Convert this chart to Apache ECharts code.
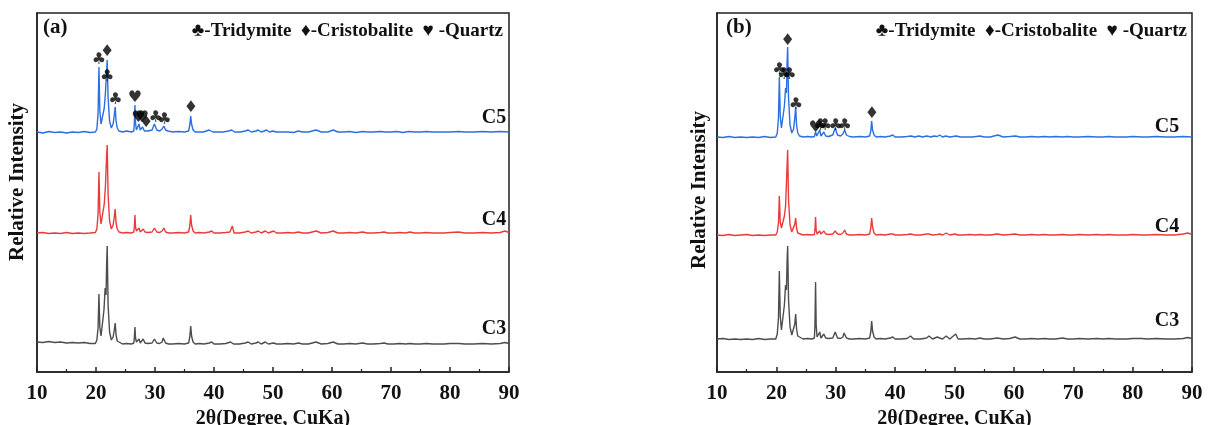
<!DOCTYPE html>
<html>
<head>
<meta charset="utf-8">
<script src="https://cdn.jsdelivr.net/npm/echarts@6/dist/echarts.min.js"></script>
<style>
  html, body { margin: 0; padding: 0; background: #fff; }
  #chart { width: 1217px; height: 425px; }
</style>
</head>
<body>
<div id="chart"></div>
<script>
// XRD patterns, [2θ (deg), intensity (a.u.)], each sample relative to its own baseline
const aC5 = [[10,1],[11,0],[12,1.5],[13,0.5],[14,1],[15,0],[16,1],[17,0.5],[18,1.5],[19,0.5],[19.9,1],[20.15,4],[20.35,20],[20.5,66],[20.65,22],[20.85,9],[21.1,9],[21.4,25],[21.6,40],[21.8,62],[21.9,73],[22.05,35],[22.3,12],[22.6,5],[22.9,9],[23.1,18],[23.25,26],[23.4,12],[23.6,5],[23.9,2],[24.5,1],[25.2,2],[26,1],[26.4,2],[26.5,10],[26.6,28],[26.7,10],[26.85,3],[27.0,3],[27.3,9],[27.5,3],[27.7,4],[27.9,6],[28.2,2],[28.5,4],[28.8,2],[29.5,3],[29.9,9],[30.3,3],[30.8,2],[31.2,4],[31.5,7],[31.8,3],[32.2,2],[33,1],[34,1.5],[35,1],[35.7,2],[35.9,8],[36.05,17],[36.2,9],[36.45,3],[36.8,1],[37.5,1],[38.2,1],[39.2,3],[39.8,1],[40.5,1],[41.5,1],[42.5,2],[43,3],[43.5,1],[44.5,1],[45.3,2],[45.8,3],[46.3,1],[47.1,2],[47.5,3],[48,1],[48.5,2],[48.9,3],[49.4,1],[50,2],[50.5,1],[51.5,1],[52.5,1],[53.5,0.5],[54.3,2],[55,1],[56,1],[57.3,3],[58.2,1],[59.3,1],[60.2,3],[61,1],[62,1],[63,1.5],[64,0.5],[65.2,1.5],[66,1],[67,1],[68.2,1.5],[69,1],[70,1],[71,1.5],[72,0.5],[73,1.5],[74,1],[75,1],[76,1.5],[77,1],[78,1],[79,1],[80,1],[81.5,1.5],[82.5,1],[84,1],[85.5,1.5],[87,1],[88.5,1.5],[90,1]];
const aC4 = [[10,1],[11,1.5],[12,0.5],[13,1],[14,0.5],[15,1.5],[16,0.5],[17,1],[18,0.5],[19,1],[19.9,1.5],[20.15,5],[20.35,20],[20.5,62],[20.65,22],[20.85,10],[21.1,10],[21.4,30],[21.6,48],[21.8,78],[21.9,89],[22.05,40],[22.3,13],[22.6,5],[22.9,9],[23.1,17],[23.25,25],[23.4,11],[23.6,5],[23.9,2],[24.5,1],[25.2,1.5],[26,1],[26.4,2],[26.5,7],[26.6,19],[26.7,7],[26.85,3],[27.0,3],[27.3,6],[27.5,2],[27.8,3],[28.0,5],[28.3,2],[28.8,1.5],[29.5,2],[29.9,6],[30.3,2],[30.8,1.5],[31.2,3],[31.5,6],[31.8,2],[32.3,1],[33,1],[34,1.5],[35,1],[35.7,2],[35.9,8],[36.05,19],[36.2,9],[36.45,3],[36.8,1],[37.5,1.5],[38.3,1],[39.2,2],[39.6,3],[40,1],[41,1],[42,1.5],[42.7,2],[43.1,8],[43.4,1],[44.3,1],[45.3,2],[45.8,3],[46.3,1],[47.1,2],[47.5,3],[48,1],[48.7,3],[49.2,1],[50.1,3],[50.6,1],[51.5,1],[52.5,1.5],[53.5,1],[54.3,2],[55,1],[56,1],[57.3,3],[58.2,1],[59.3,1.5],[60.2,3],[61,1],[62,1],[63,1.5],[64,1],[65.2,2],[66,1],[67,1],[68.2,1.5],[68.8,2],[69.5,1],[70.5,1],[71.5,1.5],[72.5,1],[73.2,2],[74,1],[75,1],[76,1.5],[77,1],[78,1],[79,1],[80,1.5],[81.5,2],[82.5,1],[84,1],[85.5,1.5],[87,1],[88.5,1.5],[89.3,3],[90,1.5]];
const aC3 = [[10,3],[11,2.5],[12,3.5],[13,2.5],[14,3],[15,2],[16,2.5],[17,2],[18,2.5],[19,1.5],[19.9,1.5],[20.15,5],[20.35,17],[20.5,51],[20.65,18],[20.85,9],[21.1,11],[21.35,35],[21.55,57],[21.7,50],[21.8,80],[21.9,99],[22.05,40],[22.3,13],[22.6,5],[22.9,8],[23.1,15],[23.25,22],[23.4,10],[23.6,4],[23.9,2],[24.5,1],[25.2,1.5],[26,1],[26.4,2],[26.5,7],[26.6,18],[26.7,7],[26.85,3],[27.0,3],[27.3,6],[27.5,2],[27.8,3],[28.0,6],[28.3,2],[28.8,1.5],[29.5,2],[29.9,6],[30.3,2],[30.8,1.5],[31.2,3],[31.4,7],[31.8,2],[32.3,1],[33,1],[34,1.5],[35,1],[35.7,2],[35.9,8],[36.05,19],[36.2,9],[36.45,3],[36.8,1],[37.5,1.5],[38.3,1],[39.2,2],[39.6,3],[40,1],[41,1],[42,1.5],[42.8,3],[43.3,1],[44.3,1],[45.3,2],[45.8,3],[46.3,1],[47.1,2],[47.5,3],[48,1],[48.7,3],[49.2,1],[50.1,2],[50.6,1],[51.5,1],[52.5,1.5],[53.5,1],[54.3,2],[55,1],[56,1],[57.3,3],[58.2,1],[59.3,1.5],[60.2,3],[61,1],[62,1],[63,1.5],[64,1],[65.2,2],[66,1],[67,1],[68.2,1.5],[68.8,2],[69.5,1],[70.5,1],[71.5,1.5],[72.5,1],[73.2,1.5],[74,1],[75,1],[76,1.5],[77,1],[78,1],[79,1],[80,1.5],[81.5,1.5],[82.5,1],[84,1],[85.5,1.5],[87,1],[88.5,1.5],[89.3,2.5],[90,1.5]];

const bC5 = [[10,1],[11,0.5],[12,1.5],[13,0.5],[14,1],[15,0.5],[16,1],[17,0.5],[18,1.5],[19,0.5],[19.9,1],[20.15,5],[20.35,20],[20.5,61],[20.65,22],[20.85,10],[21.1,10],[21.35,32],[21.55,50],[21.7,45],[21.8,75],[21.9,91],[22.05,40],[22.3,13],[22.6,5],[22.9,9],[23.1,20],[23.25,31],[23.4,13],[23.6,5],[23.9,2],[24.5,1],[25.2,1.5],[26,1],[26.4,1.5],[26.6,6],[26.8,2],[27.0,2],[27.3,8],[27.5,2],[27.8,3],[28.0,6],[28.3,2],[28.8,1.5],[29.5,3],[29.9,10],[30.3,3],[30.8,2],[31.2,4],[31.5,8],[31.8,3],[32.3,1.5],[33,1],[34,1.5],[35,1],[35.7,2],[35.9,7],[36.05,17],[36.2,8],[36.45,3],[36.8,1],[37.5,1.5],[38.3,1],[39.2,2],[39.6,3],[40,1],[41,1],[42,1.5],[42.7,2],[43.3,1],[44,2],[44.6,1],[45.3,2],[45.6,3],[46.1,1],[46.5,2],[47.1,1.5],[47.5,3],[48,1],[48.5,2],[49.2,1],[50.3,2],[51,1],[52,1],[53,1],[54.3,2],[55,1],[56,1],[57.3,3],[58.2,1],[59.3,1.5],[60.3,2],[61,1],[62,1],[63,1.5],[64,1],[65.2,1.5],[66,1],[67,1.5],[68.2,1],[69,1.5],[70,1],[71,1],[72.5,1.5],[74,1],[75,1],[76,1.5],[77,1],[78,1],[79,1],[80,1.5],[81.5,1],[82.5,1],[84,1.5],[85.5,1],[87,1],[88.5,1.5],[90,1]];
const bC4 = [[10,1],[11,0.5],[12,1.5],[13,0.5],[14,1],[15,1.5],[16,0.5],[17,1],[18,0.5],[19,1],[19.9,1],[20.15,4],[20.35,13],[20.5,40],[20.65,14],[20.85,8],[21.1,8],[21.35,20],[21.55,30],[21.7,28],[21.8,70],[21.9,86],[22.05,36],[22.3,11],[22.6,4],[22.9,6],[23.1,12],[23.25,18],[23.4,8],[23.6,3],[23.9,1.5],[24.5,1],[25.2,1.5],[26,1],[26.4,1.5],[26.5,6],[26.6,19],[26.7,6],[26.85,2],[27.0,2],[27.3,5],[27.5,2],[27.8,2],[28.0,5],[28.3,2],[28.8,1.5],[29.5,2],[29.9,5],[30.3,2],[30.8,1.5],[31.2,3],[31.5,6],[31.8,2],[32.3,1],[33,1],[34,1.5],[35,1],[35.7,2],[35.9,8],[36.05,18],[36.2,9],[36.45,3],[36.8,1],[37.5,1.5],[38.3,1],[39.2,2],[39.6,2],[40,1],[41,1],[42,1.5],[42.6,2],[43.3,1],[44.3,1],[45.3,2],[45.7,2],[46.3,1],[47.1,1.5],[47.5,2],[48,1],[48.6,3],[49.2,1],[50.1,2],[50.6,1],[51.5,1],[52.5,1.5],[53.5,1],[54.3,1.5],[55,1],[56,1],[57.2,2],[58.2,1],[59.3,1.5],[60.2,2],[61,1],[62,1],[63,1.5],[64,1],[65.2,1.5],[66,1],[67,1],[68.2,1.5],[69,1],[70,1],[71,1.5],[72.5,1],[74,1.5],[75,1],[76,1.5],[77,1],[78,1],[79,1],[80,1.5],[81.5,1],[82.5,1],[84,1.5],[85.5,1],[87,1],[88.5,2],[89.3,3],[90,1.5]];
const bC3 = [[10,1],[11,1.5],[12,0.5],[13,1],[14,0.5],[15,1],[16,0.5],[17,1.5],[18,0.5],[19,1],[19.9,1],[20.15,6],[20.35,22],[20.5,69],[20.65,24],[20.85,10],[21.1,10],[21.35,35],[21.55,55],[21.7,50],[21.8,78],[21.9,94],[22.05,40],[22.3,13],[22.6,5],[22.9,7],[23.1,16],[23.25,26],[23.4,11],[23.6,4],[23.9,2],[24.5,1],[25.2,1.5],[26,1],[26.4,2],[26.5,15],[26.6,58],[26.7,15],[26.85,3],[27.0,2],[27.3,8],[27.5,2],[27.8,3],[28.0,6],[28.3,2],[28.8,1.5],[29.5,2],[29.9,8],[30.3,2],[30.8,1.5],[31.2,3],[31.4,7],[31.8,2],[32.3,1],[33,1],[34,1.5],[35,1],[35.7,2],[35.9,8],[36.05,19],[36.2,9],[36.45,3],[36.8,1],[37.5,1.5],[38.3,1],[39.2,2],[39.6,3],[40,1],[41,1],[42,1.5],[42.6,4],[43.1,1],[44.3,1],[45.3,2],[45.7,4],[46.3,1],[47.1,3],[47.5,2],[48,1],[48.6,4],[49.2,1],[50.2,6],[50.6,1],[51.5,1],[52.5,1.5],[53.5,1],[54.3,2],[55,1],[56,1],[57.2,2],[58.2,1],[59.3,1.5],[60.2,3],[61,1],[62,1],[63,1.5],[64,1],[65.2,1.5],[66,1],[67,1],[68.2,2],[69,1],[70,1],[71,1.5],[72.5,1],[74,1.5],[75,1],[76,1.5],[77,1],[78,1],[79,1],[80,1.5],[81.5,1.5],[82.5,1],[84,1.5],[85.5,1],[87,1],[88.5,1.5],[89.3,2.5],[90,1.5]];

// vertical stacking offset of each pattern (a.u.)
const sampleNames = ['C5', 'C4', 'C3'];
const offsetsA = [239, 138, 27];
const offsetsB = [234, 136, 32];

// phase markers: [2θ, height (a.u., stacked), glyph]
const markersA = [[20.5,312,'♣'],[21.9,320,'♦'],[21.9,295,'♣'],[23.3,272,'♣'],[26.6,274,'♥'],[27.2,254,'♥'],[27.8,254,'♥'],[28.5,249,'♦'],[30.1,254,'♣'],[31.6,252,'♣'],[36.1,264,'♦']];
const markersB = [[20.5,302,'♣'],[21.3,297,'♣'],[22.2,297,'♣'],[21.9,331,'♦'],[23.3,267,'♣'],[26.6,244,'♥'],[27.4,246,'♣'],[28.2,246,'♣'],[30.0,246,'♣'],[31.5,246,'♣'],[36.1,258,'♦']];

const xTicks = [10, 20, 30, 40, 50, 60, 70, 80, 90];
const legendText = '♣-Tridymite  ♦-Cristobalite  ♥ -Quartz';
const panelTags = ['(a)', '(b)'];

const colors = ['#2c6fe0', '#ea3b3b', '#4d4d4d'];
const serif = '"Liberation Serif", "Times New Roman", serif';

const chart = echarts.init(document.getElementById('chart'), null, { renderer: 'canvas' });

const grids = [
  { left: 37, top: 13, width: 472, height: 359 },
  { left: 717, top: 13, width: 475, height: 359 }
];

function xAxisFor(i) {
  return {
    gridIndex: i, type: 'value', min: xTicks[0], max: xTicks[xTicks.length - 1], interval: 10,
    name: '2θ(Degree, CuKa)', nameLocation: 'middle', nameGap: 30,
    nameTextStyle: { fontFamily: serif, fontWeight: 'bold', fontSize: 20, color: '#111' },
    axisLine: { show: true, lineStyle: { color: '#222', width: 1.5 } },
    axisTick: { show: true, inside: true, length: 5, lineStyle: { color: '#222', width: 1.5 } },
    minorTick: { show: true, splitNumber: 2, length: 3, lineStyle: { color: '#222', width: 1.2 } },
    axisLabel: { fontFamily: serif, fontWeight: 'bold', fontSize: 21, color: '#111', margin: 11 },
    splitLine: { show: false }
  };
}
function yAxisFor(i) {
  return {
    gridIndex: i, type: 'value', min: 0, max: 359,
    axisLine: { show: true, lineStyle: { color: '#222', width: 1.5 } },
    axisTick: { show: false }, axisLabel: { show: false }, splitLine: { show: false }
  };
}

const patterns = [[aC5, aC4, aC3], [bC5, bC4, bC3]];
const offsets = [offsetsA, offsetsB];
const markers = [markersA, markersB];

const series = [];
patterns.forEach((set, p) => {
  set.forEach((pts, k) => {
    series.push({
      type: 'line', xAxisIndex: p, yAxisIndex: p, name: sampleNames[k],
      data: pts.map(d => [d[0], d[1] + offsets[p][k]]),
      symbol: 'none', smooth: false,
      lineStyle: { color: colors[k], width: 1.4 }, z: 2
    });
  });
  series.push({
    type: 'scatter', xAxisIndex: p, yAxisIndex: p,
    data: markers[p], symbolSize: 0, z: 5,
    label: {
      show: true, position: 'inside', formatter: q => q.value[2],
      fontFamily: '"DejaVu Sans", sans-serif', fontSize: 16, color: '#000'
    }
  });
});

// sample names beside each pattern, axis titles and top annotations
const graphic = [];
const nameX = [494, 1167];
const nameY = [[118, 220, 329], [127, 227, 321]];
const tagX = [43, 726];
const legendRight = [503, 1187];
const yNameX = [18, 700];
const yNameY = [182, 190];
for (let p = 0; p < 2; p++) {
  sampleNames.forEach((n, k) => {
    graphic.push({ type: 'text', x: nameX[p], y: nameY[p][k],
      style: { text: n, fontFamily: serif, fontWeight: 'bold', fontSize: 20, fill: '#111', align: 'center', verticalAlign: 'middle' } });
  });
  graphic.push({ type: 'text', x: tagX[p], y: 28,
    style: { text: panelTags[p], fontFamily: serif, fontWeight: 'bold', fontSize: 21, fill: '#111', align: 'left', verticalAlign: 'middle' } });
  graphic.push({ type: 'text', x: legendRight[p], y: 31,
    style: { text: legendText, fontFamily: serif, fontWeight: 'bold', fontSize: 19, fill: '#111', align: 'right', verticalAlign: 'middle' } });
  graphic.push({ type: 'text', x: yNameX[p], y: yNameY[p], rotation: Math.PI / 2,
    style: { text: 'Relative Intensity', fontFamily: serif, fontWeight: 'bold', fontSize: 21, fill: '#111', align: 'center', verticalAlign: 'middle' } });
}

chart.setOption({
  animation: false,
  backgroundColor: '#fff',
  grid: grids.map(g => Object.assign({ show: true, borderColor: '#222', borderWidth: 1.5, backgroundColor: 'transparent', outerBoundsMode: 'none', containLabel: false }, g)),
  xAxis: [xAxisFor(0), xAxisFor(1)],
  yAxis: [yAxisFor(0), yAxisFor(1)],
  series: series,
  graphic: graphic
});
</script>
</body>
</html>
